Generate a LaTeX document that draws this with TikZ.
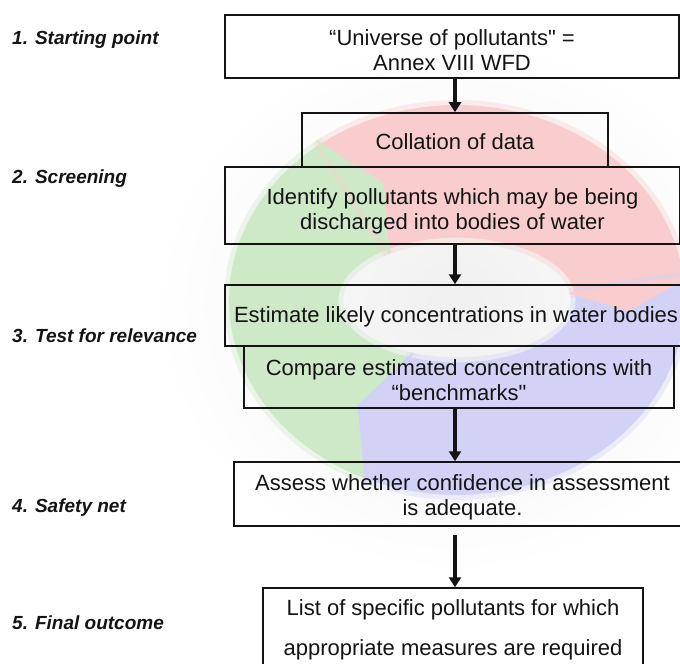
\documentclass[tikz,border=0pt]{standalone}
\usepackage{fontspec}
\setmainfont{Liberation Sans}[Ligatures=TeXOff]
\usetikzlibrary{arrows.meta,calc}
\definecolor{ringgreen}{RGB}{206,233,200}
\definecolor{ringred}{RGB}{249,205,205}
\definecolor{ringblue}{RGB}{210,210,246}
\definecolor{haze}{RGB}{240,240,240}
\definecolor{ink}{RGB}{20,20,20}
\begin{document}
\begin{tikzpicture}[x=1bp,y=-1bp,
  box/.style={draw=ink, line width=1.5bp, rectangle, inner sep=0pt},
  txt/.style={align=center, inner sep=0pt, text=ink,
    font=\fontsize{22bp}{25bp}\selectfont},
  lbl/.style={anchor=base west, inner sep=0pt,
    font=\fontsize{19bp}{22bp}\selectfont\bfseries\itshape, text=ink},
  arr/.style={draw=ink, line width=4.5bp, -{Triangle[width=12bp,length=10bp]}},
  soft/.style={draw=#1, line width=10bp, draw opacity=0.35, fill=#1}
]
\useasboundingbox (0,0) rectangle (680,664);
\clip (0,0) rectangle (680,664);
\fill[white] (0,0) rectangle (680,664);
% faint haze behind the cycle
\shade[inner color=haze, outer color=white] (455,305) ellipse[x radius=300bp, y radius=270bp];
% background cycle
\begin{scope}[shift={(457,300)}, xscale=228, yscale=-195]
  \path[soft=ringgreen] plot[domain=247:127,samples=40] ({cos(\x)},{sin(\x)}) -- plot[domain=127:247,samples=40] ({0.52*cos(\x)},{0.32*sin(\x)}) -- cycle;
  \path[soft=ringred] plot[domain=127:7,samples=40] ({cos(\x)},{sin(\x)}) -- plot[domain=7:127,samples=40] ({0.52*cos(\x)},{0.32*sin(\x)}) -- cycle;
  \path[soft=ringblue] plot[domain=7:-113,samples=40] ({cos(\x)},{sin(\x)}) -- plot[domain=-113:7,samples=40] ({0.52*cos(\x)},{0.32*sin(\x)}) -- cycle;
  \fill[ringgreen] ({1.03*cos(127)},{1.03*sin(127)}) -- ({0.76*cos(115)},{0.66*sin(115)}) -- ({0.49*cos(127)},{0.29*sin(127)}) -- cycle;
  \fill[ringred] ({1.03*cos(7)},{1.03*sin(7)}) -- ({0.76*cos(-5)},{0.66*sin(-5)}) -- ({0.49*cos(7)},{0.29*sin(7)}) -- cycle;
  \fill[ringblue] ({1.03*cos(-113)},{1.03*sin(-113)}) -- ({0.76*cos(-125)},{0.66*sin(-125)}) -- ({0.49*cos(-113)},{0.29*sin(-113)}) -- cycle;
\end{scope}
% box frames
\node[box, minimum width=454bp, minimum height=63bp] (b1) at (452,46.5) {};
\node[box, minimum width=306bp, minimum height=54bp] (coll) at (455,140) {};
\node[box, minimum width=455bp, minimum height=77bp] (b2) at (452.5,205.5) {};
\node[box, minimum width=462bp, minimum height=61bp] (b3) at (456,315.5) {};
\node[box, minimum width=430bp, minimum height=62bp] (b4) at (459,377) {};
\node[box, minimum width=457bp, minimum height=64bp] (b5) at (462.5,494) {};
\node[box, minimum width=380bp, minimum height=80bp] (b6) at (453,628) {};
% box texts
\node[txt] (t1) at ([yshift=-3.5bp]b1.center) {“Universe of pollutants" =\\Annex VIII WFD};
\node[txt] (tc) at ([yshift=-2bp]coll.center) {Collation of data};
\node[txt] (t2) at ([yshift=-6bp]b2.center) {Identify pollutants which may be being\\discharged into bodies of water};
\node[txt] (t3) at ([yshift=-1.5bp]b3.center) {Estimate likely concentrations in water bodies};
\node[txt] (t4) at ([yshift=-3bp]b4.center) {Compare estimated concentrations with\\“benchmarks"};
\node[txt] (t5) at ([yshift=-3bp]b5.center) {Assess whether confidence in assessment\\is adequate.};
\node[txt, font=\fontsize{22bp}{40bp}\selectfont] (t6) at ([yshift=-2bp]b6.center) {List of specific pollutants for which\\appropriate measures are required};
% arrows
\coordinate (ax) at (455,0);
\draw[arr] (b1.south -| ax) -- (coll.north -| ax);
\draw[arr] (b2.south -| ax) -- (b3.north -| ax);
\draw[arr] (b4.south -| ax) -- (b5.north -| ax);
\draw[arr] ([yshift=-8bp]b5.south -| ax) -- (b6.north -| ax);
% stage labels
\node[lbl] (l1) at (12,45) {1. Starting point};
\node[lbl] (l2) at (12,183) {2. Screening};
\node[lbl] (l3) at (12,342) {3. Test for relevance};
\node[lbl] (l4) at (12,512) {4. Safety net};
\node[lbl] (l5) at (12,629) {5. Final outcome};
\end{tikzpicture}
\end{document}
